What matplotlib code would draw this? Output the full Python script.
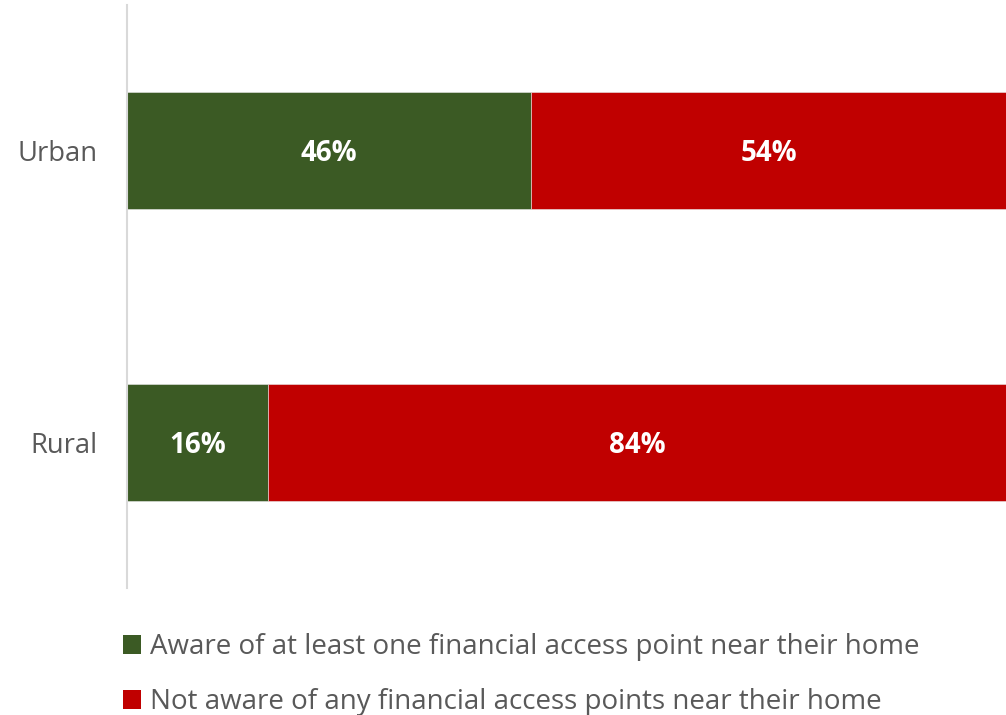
import matplotlib

matplotlib.use("Agg")
import matplotlib.pyplot as plt
from matplotlib.patches import Patch

plt.rcParams["font.family"] = ["Open Sans", "DejaVu Sans"]

categories = ["Rural", "Urban"]
aware = [16, 46]
not_aware = [84, 54]
series_names = [
    "Aware of at least one financial access point near their home",
    "Not aware of any financial access points near their home",
]

GREEN = "#3B5A24"
RED = "#C00000"
TEXT_GREY = "#595959"

fig = plt.figure(figsize=(10.06, 7.15), dpi=100, facecolor="white")
ax = fig.add_axes([127 / 1006, 1 - 588 / 715, 1 - 127 / 1006, 583 / 715])

ypos = list(range(len(categories)))
ax.barh(ypos, aware, height=0.4, color=GREEN, edgecolor="#E8E8E8", linewidth=0.4)
ax.barh(ypos, not_aware, left=aware, height=0.4, color=RED, edgecolor="#E8E8E8", linewidth=0.4)

for y, a, n in zip(ypos, aware, not_aware):
    ax.text(a / 2, y - 0.01, f"{a}%", ha="center", va="center", color="white",
            fontsize=20, fontweight="bold")
    ax.text(a + n / 2, y - 0.01, f"{n}%", ha="center", va="center", color="white",
            fontsize=20, fontweight="bold")

ax.set_xlim(0, 100)
ax.set_ylim(-0.5, 1.5)
ax.set_yticks(ypos)
ax.set_yticklabels(categories, fontsize=19.7, color=TEXT_GREY)
ax.tick_params(axis="y", length=0, pad=21.5)
ax.set_xticks([])
for side in ("top", "right", "bottom"):
    ax.spines[side].set_visible(False)
ax.spines["left"].set_color("#D9D9D9")
ax.spines["left"].set_linewidth(1.5)

handles = [Patch(facecolor=GREEN), Patch(facecolor=RED)]
fig.legend(handles, series_names, loc="upper left", bbox_to_anchor=(112 / 1006, 1 - 622 / 715),
           frameon=False, fontsize=20, labelcolor=TEXT_GREY, handlelength=0.65,
           handleheight=0.65, handletextpad=0.3, labelspacing=0.98, borderaxespad=0)

fig.savefig("out.png", dpi=100, facecolor="white")
